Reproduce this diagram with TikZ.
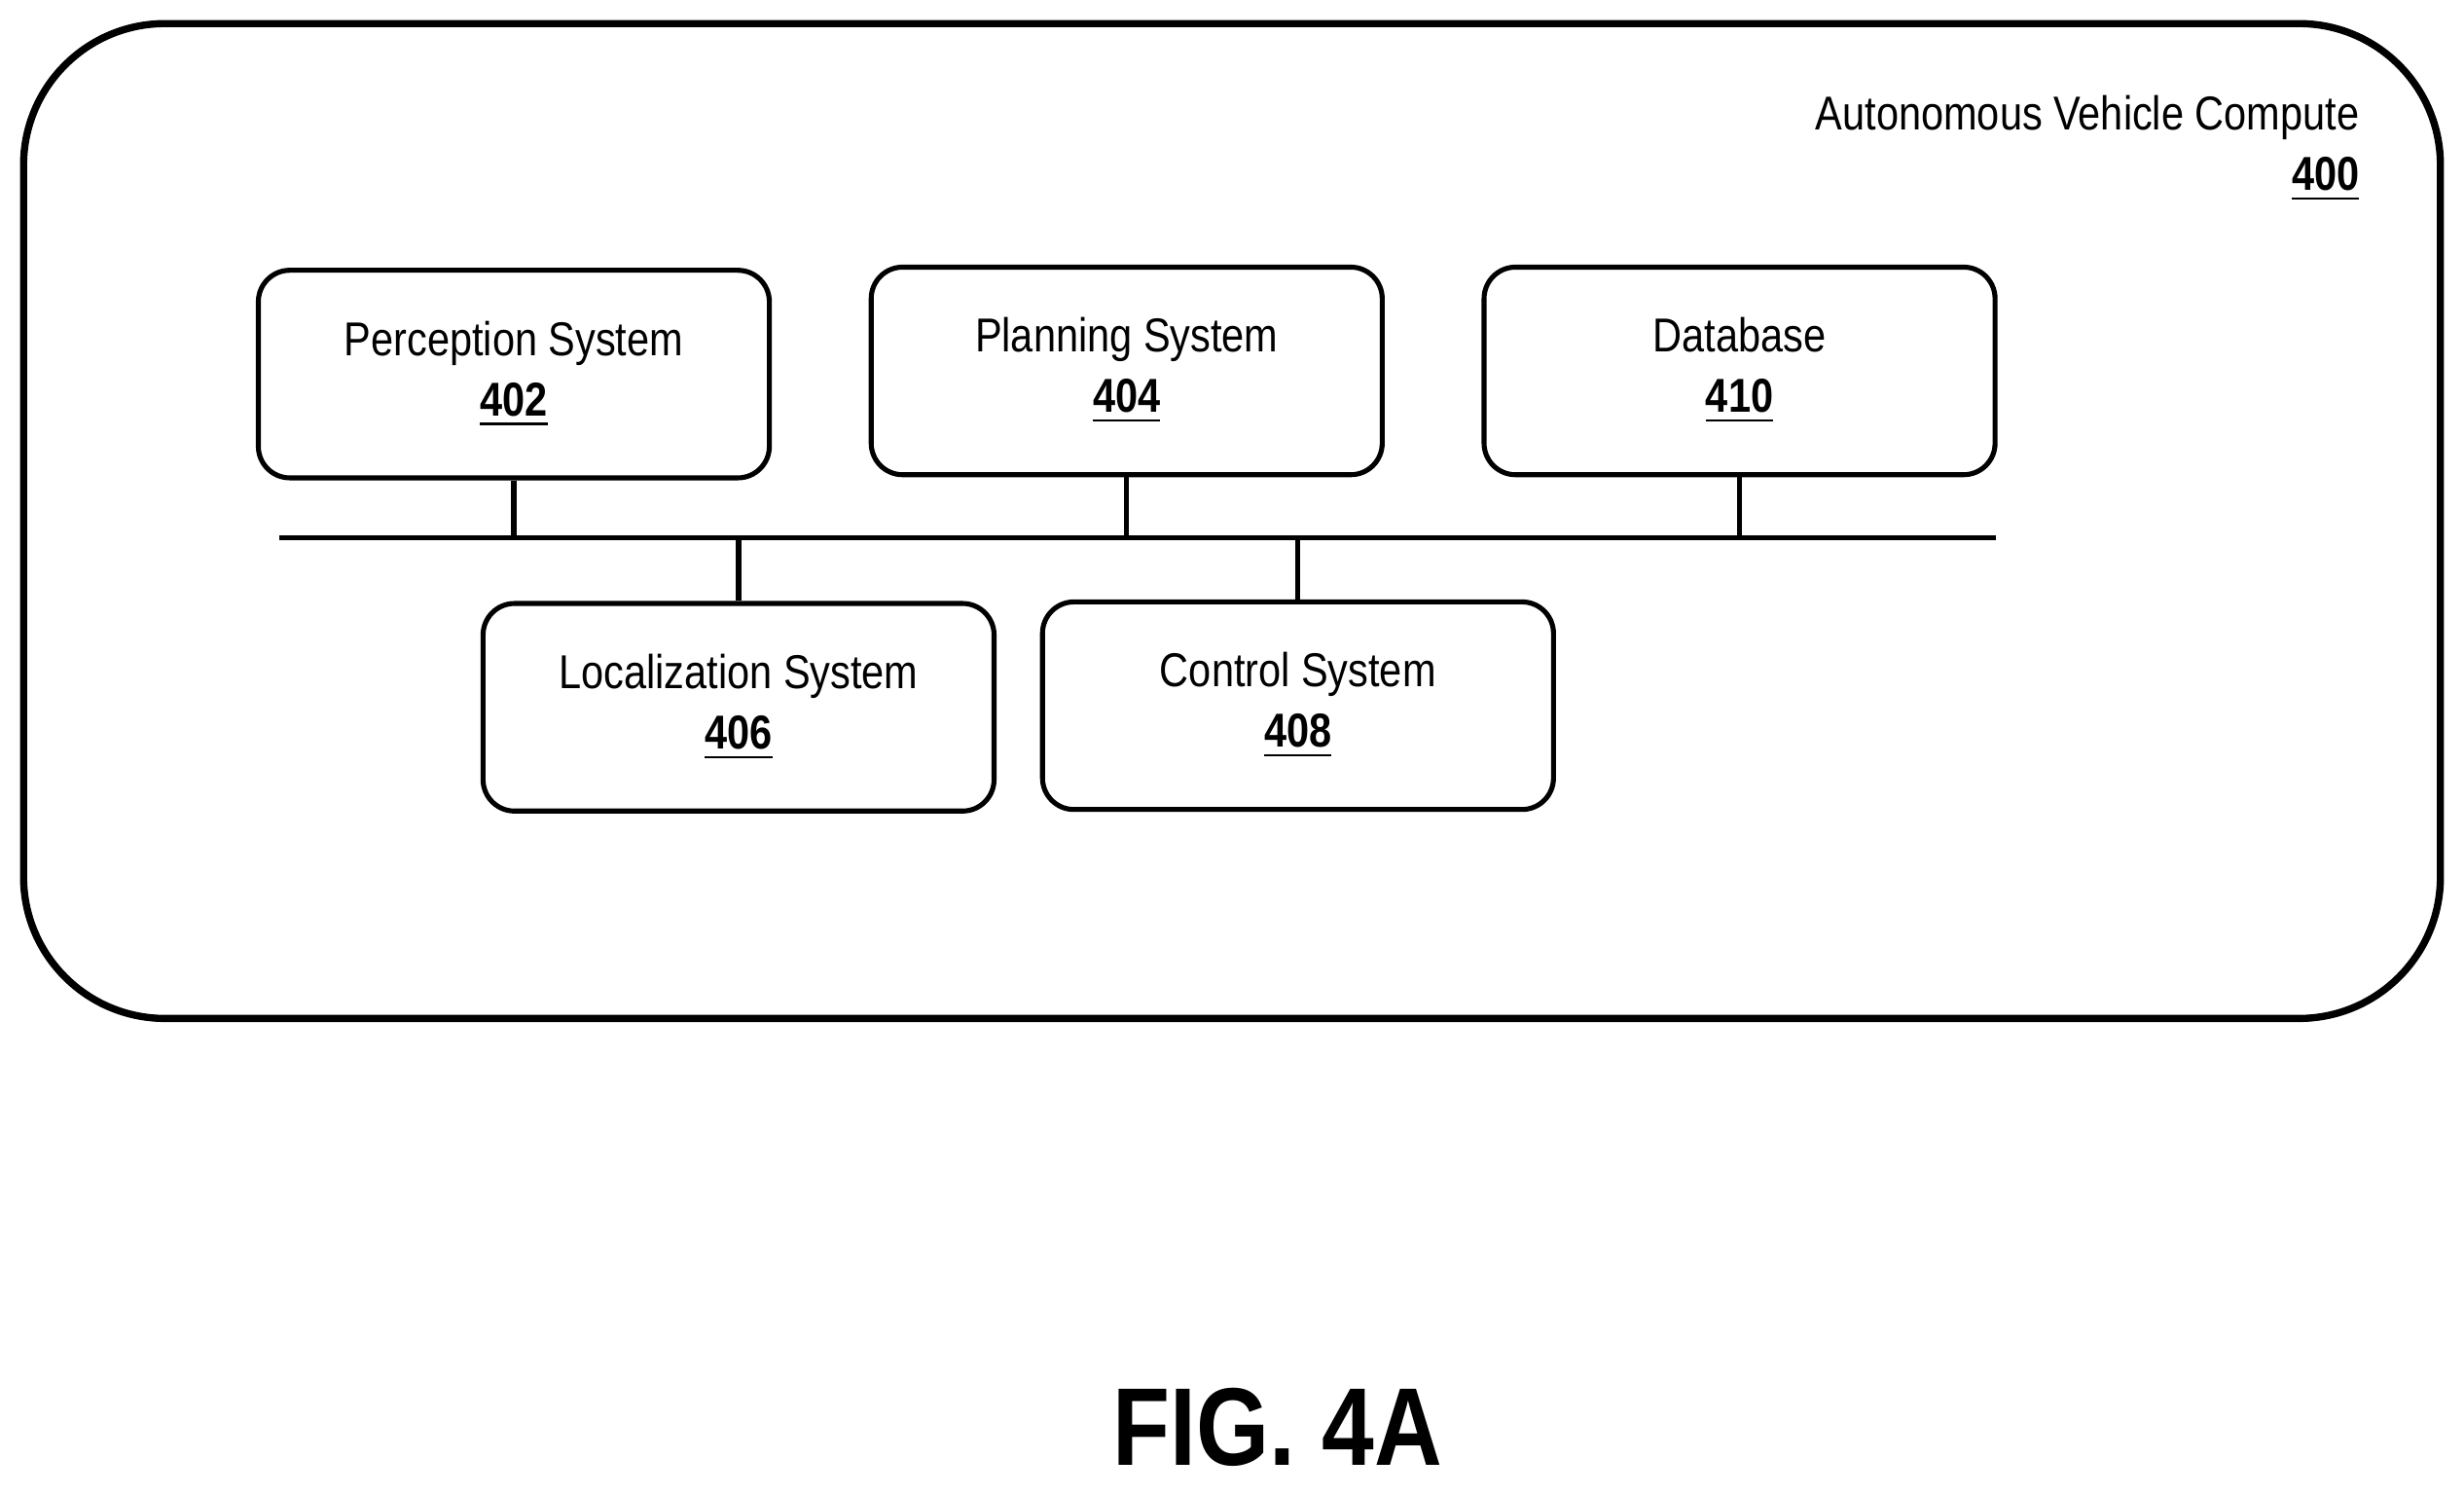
\documentclass[tikz,border=0pt]{standalone}
\usepackage{fontspec}
\setmainfont{Liberation Sans}[FakeStretch=0.85]
\usetikzlibrary{positioning,calc}
\tikzset{
  sys/.style={draw, rounded corners=0.2cm, line width=0.9pt, minimum width=3.25cm, minimum height=1.32cm, align=center, font=\fontsize{8.6}{10.9}\selectfont},
  link/.style={line width=0.9pt}
}
\newcommand{\refnum}[1]{\textbf{\underline{#1}}}
\begin{document}
\begin{tikzpicture}[x=0.01cm,y=-0.01cm]
\useasboundingbox (0,0) rectangle (1568,951);
\draw[line width=1.3pt, rounded corners=0.9cm] (15,15) rectangle (1553,648);
\node[anchor=north east, align=right, font=\fontsize{8.6}{10.9}\selectfont, inner sep=0pt] (avc) at (1502,60) {Autonomous Vehicle Compute\\\refnum{400}};
\node[sys] (per) at (327,238) {Perception System\\\refnum{402}};
\node[sys] (pla) at (717,236) {Planning System\\\refnum{404}};
\node[sys] (dat) at (1107,236) {Database\\\refnum{410}};
\node[sys] (loc) at (470,450) {Localization System\\\refnum{406}};
\node[sys] (con) at (826,449) {Control System\\\refnum{408}};
\coordinate (busL) at (178,342);
\coordinate (busR) at (1270,342);
\draw[link] (busL) -- (busR);
\draw[link] (per) -- (per |- busL);
\draw[link] (pla) -- (pla |- busL);
\draw[link] (dat) -- (dat |- busL);
\draw[link] (loc) -- (loc |- busL);
\draw[link] (con) -- (con |- busL);
\node[font=\fontsize{20}{24}\bfseries\selectfont] (fig) at (813,908) {FIG. 4A};
\end{tikzpicture}
\end{document}
